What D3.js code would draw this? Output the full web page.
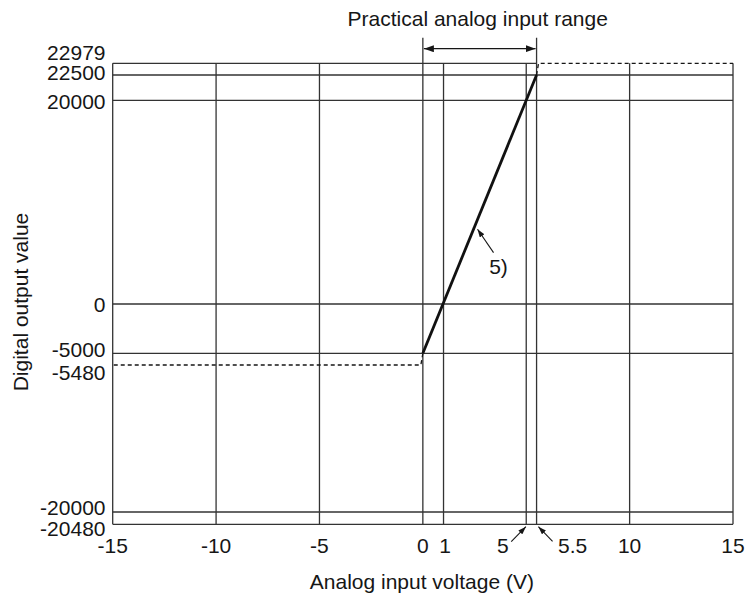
<!DOCTYPE html>
<html>
<head>
<meta charset="utf-8">
<script src="https://cdn.jsdelivr.net/npm/d3@7"></script>
<style>
  html, body { margin: 0; padding: 0; background: #fff; }
  svg { display: block; font-family: "Liberation Sans", Arial, Helvetica, sans-serif; }
</style>
</head>
<body>
<svg id="chart" width="747" height="598"></svg>
<script>
// Axis ticks (analog input voltage, V) and digital output levels
const xTicks = [-15, -10, -5, 0, 1, 5, 5.5, 10, 15];
const xTickLabels = ["-15", "-10", "-5", "0", "1", "5", "5.5", "10", "15"];
const yTicks = [-20480, -20000, -5480, -5000, 0, 20000, 22500, 22979];
const yTickLabels = ["-20480", "-20000", "-5480", "-5000", "0", "20000", "22500", "22979"];

// Conversion characteristic: voltage -> digital value within the practical range
const lineVolts = [0, 5.5];
const lineValues = [-5000, 22500];
// Output clamps outside the range
const clampLow = -5480;
const clampHigh = 22979;
const voltMin = -15, voltMax = 15;
// Practical analog input range
const practicalRange = [0, 5.5];
// Annotated point on the characteristic
const notePoint = { volt: 2.5, value: 7500, text: "5)" };

const svg = d3.select("#chart");
const ink = "#161616";
const gridColor = "#333333";
const fontSize = 21;

const plotLeft = 112.7, plotRight = 733;
const plotTop = 63.3, plotBottom = 524.3;

const x = d3.scaleLinear().domain([voltMin, voltMax]).range([plotLeft, plotRight]);
// Piecewise scale: narrow clamp bands are widened so their labels stay readable
const y = d3.scaleLinear()
  .domain(yTicks)
  .range([plotBottom, 512, 365, 353.3, 304, 100.3, 75, plotTop]);

// arrowhead markers
const defs = svg.append("defs");
function marker(id, w, h) {
  defs.append("marker")
    .attr("id", id).attr("viewBox", `0 0 ${w} ${h}`)
    .attr("refX", w).attr("refY", h / 2)
    .attr("markerWidth", w).attr("markerHeight", h)
    .attr("markerUnits", "userSpaceOnUse")
    .attr("orient", "auto-start-reverse")
    .append("path").attr("d", `M0,0L${w},${h / 2}L0,${h}Z`).attr("fill", ink);
}
marker("headBig", 10, 7);
marker("headSmall", 8, 5.5);

const grid = svg.append("g").attr("stroke", gridColor).attr("stroke-width", 1.3).attr("fill", "none");

// horizontal grid lines (top frame handled separately)
yTicks.filter(v => v !== clampHigh && v !== clampLow).forEach(v => {
  grid.append("line").attr("x1", plotLeft).attr("x2", plotRight).attr("y1", y(v)).attr("y2", y(v));
});
// top frame, solid up to the end of the practical range
grid.append("line").attr("x1", plotLeft).attr("x2", x(practicalRange[1]))
  .attr("y1", y(clampHigh)).attr("y2", y(clampHigh));

// vertical grid lines
xTicks.forEach(v => {
  const ext = practicalRange.includes(v);
  grid.append("line").attr("x1", x(v)).attr("x2", x(v))
    .attr("y1", ext ? 37.7 : y(clampHigh)).attr("y2", plotBottom);
});

// practical range bracket
svg.append("line")
  .attr("x1", x(practicalRange[0]) + 1).attr("x2", x(practicalRange[1]) - 1)
  .attr("y1", 48.7).attr("y2", 48.7)
  .attr("stroke", ink).attr("stroke-width", 1.3)
  .attr("marker-start", "url(#headBig)").attr("marker-end", "url(#headBig)");
svg.append("text")
  .attr("x", (x(practicalRange[0]) + x(practicalRange[1])) / 2 - 2).attr("y", 26)
  .attr("text-anchor", "middle").attr("font-size", fontSize).attr("fill", ink)
  .text("Practical analog input range");

// clamp lines (dashed), following the extended characteristic to the clamp level
const slope = (lineValues[1] - lineValues[0]) / (lineVolts[1] - lineVolts[0]);
const vAtLow = lineVolts[0] + (clampLow - lineValues[0]) / slope;
const vAtHigh = lineVolts[1] + (clampHigh - lineValues[1]) / slope;
const lineGen = d3.line().x(d => x(d[0])).y(d => y(d[1]));
const dashed = svg.append("g").attr("fill", "none").attr("stroke", ink)
  .attr("stroke-width", 1.3).attr("stroke-dasharray", "4,3");
dashed.append("path").attr("d", lineGen([[lineVolts[0], lineValues[0]], [vAtLow, clampLow], [voltMin, clampLow]]));
dashed.append("path").attr("d", lineGen([[lineVolts[1], lineValues[1]], [vAtHigh, clampHigh], [voltMax, clampHigh]]));

// characteristic line
svg.append("path")
  .attr("d", lineGen(lineVolts.map((v, i) => [v, lineValues[i]])))
  .attr("fill", "none").attr("stroke", "#111").attr("stroke-width", 2.8);

// y tick labels, nudged apart where levels are close together
const yNudge = { "22979": -11, "22500": -2.5, "20000": 1, "0": 0.5, "-5000": -4, "-5480": 7, "-20000": -5, "-20480": 4 };
svg.append("g").selectAll("text").data(yTicks).join("text")
  .attr("x", 105.5)
  .attr("y", (d, i) => y(d) + (yNudge[yTickLabels[i]] || 0))
  .attr("dy", "0.36em")
  .attr("text-anchor", "end").attr("font-size", fontSize).attr("fill", ink)
  .text((d, i) => yTickLabels[i]);

// x tick labels; the two close ticks get pointer arrows
const xNudge = { "5": -23.5, "5.5": 36, "1": 1.5 };
svg.append("g").selectAll("text").data(xTicks).join("text")
  .attr("x", (d, i) => x(d) + (xNudge[xTickLabels[i]] || 0))
  .attr("y", 552.5)
  .attr("text-anchor", "middle").attr("font-size", fontSize).attr("fill", ink)
  .text((d, i) => xTickLabels[i]);

const pointers = svg.append("g").attr("stroke", ink).attr("stroke-width", 1.1);
pointers.append("line")
  .attr("x1", x(5) - 15).attr("y1", plotBottom + 17.4)
  .attr("x2", x(5) - 0.3).attr("y2", plotBottom + 2.4)
  .attr("marker-end", "url(#headSmall)");
pointers.append("line")
  .attr("x1", x(5.5) + 16).attr("y1", plotBottom + 17)
  .attr("x2", x(5.5) + 1.8).attr("y2", plotBottom + 2.4)
  .attr("marker-end", "url(#headSmall)");

// annotation on the characteristic
const px = x(notePoint.volt), py = y(notePoint.value);
pointers.append("line")
  .attr("x1", px + 19).attr("y1", py + 25)
  .attr("x2", px + 3).attr("y2", py + 1.7)
  .attr("marker-end", "url(#headSmall)");
svg.append("text")
  .attr("x", px + 24).attr("y", py + 46)
  .attr("text-anchor", "middle").attr("font-size", fontSize).attr("fill", ink)
  .text(notePoint.text);

// axis titles
svg.append("text")
  .attr("x", (plotLeft + plotRight) / 2 - 1).attr("y", 589)
  .attr("text-anchor", "middle").attr("font-size", fontSize).attr("fill", ink)
  .text("Analog input voltage (V)");
svg.append("text")
  .attr("transform", "translate(28,302) rotate(-90)")
  .attr("text-anchor", "middle").attr("font-size", fontSize).attr("fill", ink)
  .text("Digital output value");
</script>
</body>
</html>
